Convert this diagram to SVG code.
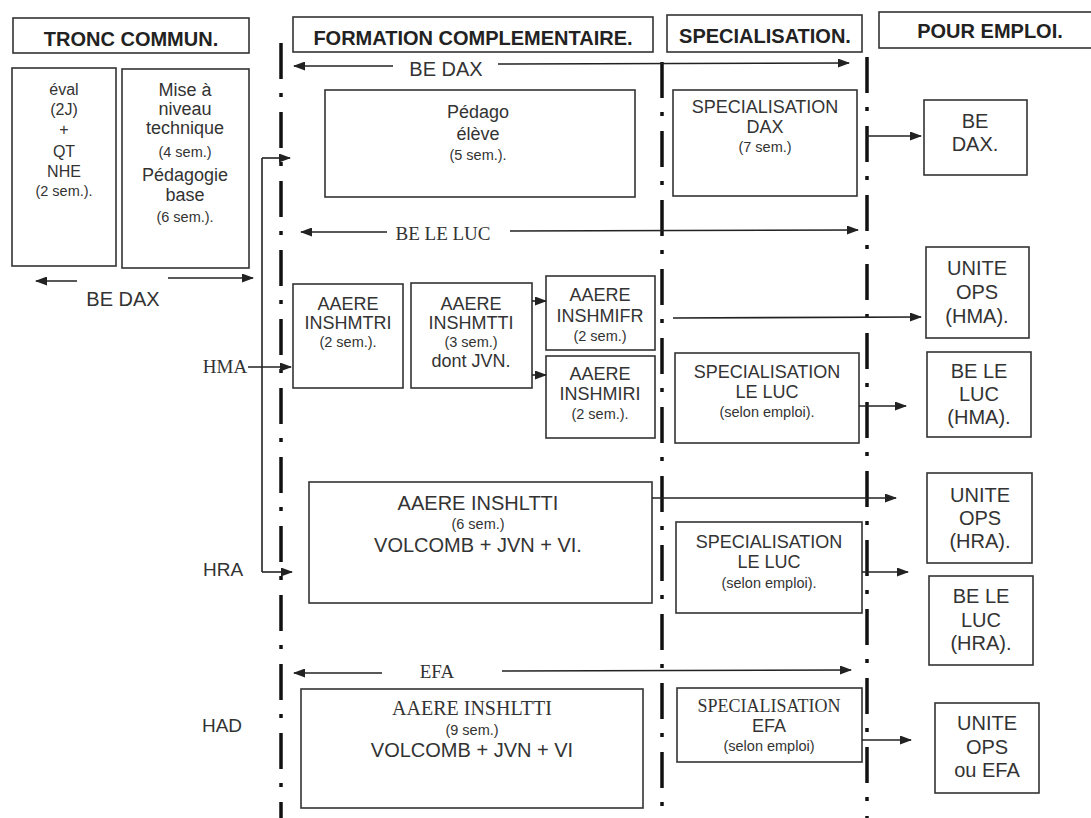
<svg xmlns="http://www.w3.org/2000/svg" width="1091" height="818" viewBox="0 0 1091 818">
<defs>
<marker id="ah" markerUnits="userSpaceOnUse" markerWidth="12" markerHeight="9" refX="11" refY="4.5" orient="auto">
<path d="M0,0 L12,4.5 L0,9 z" fill="#222"/>
</marker>
</defs>
<style>
.bx{fill:#fff;stroke:#333;stroke-width:1.6}
.h{font-family:"Liberation Sans",Arial,sans-serif;font-weight:bold;font-size:20px;fill:#222;text-anchor:middle}
.t{font-family:"Liberation Sans",Arial,sans-serif;font-size:18px;fill:#333;text-anchor:middle}
.e{font-family:"Liberation Sans",Arial,sans-serif;font-size:16px;fill:#333;text-anchor:middle}
.b{font-family:"Liberation Sans",Arial,sans-serif;font-size:20px;fill:#333;text-anchor:middle}
.s{font-family:"Liberation Sans",Arial,sans-serif;font-size:14.5px;fill:#333;text-anchor:middle}
.r{font-family:"Liberation Serif","Times New Roman",serif;font-size:19px;fill:#333;text-anchor:middle}
.c{fill:none;stroke:#222;stroke-width:1.6}
.a{fill:none;stroke:#222;stroke-width:1.6;marker-end:url(#ah)}
.dd{fill:none;stroke:#111;stroke-width:3.5;stroke-dasharray:36 14 4 15}
</style>
<rect width="1091" height="818" fill="#fff"/>

<g id="separators">
<line class="dd" x1="281" y1="43" x2="281" y2="818"/>
<line class="dd" x1="662" y1="62" x2="662" y2="818"/>
<line class="dd" x1="867" y1="57" x2="867" y2="818"/>
</g>

<g id="h-tronc"><rect class="bx" x="13" y="18" width="236" height="35"/><text class="h" x="131" y="46">TRONC COMMUN.</text></g>
<g id="h-formation"><rect class="bx" x="293" y="17" width="360" height="35"/><text class="h" x="473" y="45">FORMATION COMPLEMENTAIRE.</text></g>
<g id="h-spec"><rect class="bx" x="667" y="15" width="195" height="37"/><text class="h" x="765" y="43">SPECIALISATION.</text></g>
<g id="h-emploi"><rect class="bx" x="879" y="12" width="220" height="36"/><text class="h" x="990" y="38">POUR EMPLOI.</text></g>

<g id="n-eval"><rect class="bx" x="12" y="68" width="104" height="198"/>
<text class="e" x="64" y="95">éval</text><text class="e" x="64" y="115">(2J)</text><text class="e" x="64" y="135">+</text>
<text class="e" x="64" y="157">QT</text><text class="e" x="64" y="177">NHE</text><text class="s" x="64" y="196">(2 sem.).</text></g>

<g id="n-mise"><rect class="bx" x="122" y="69" width="127" height="199"/>
<text class="t" x="185" y="96">Mise à</text><text class="t" x="185" y="115">niveau</text><text class="t" x="185" y="134">technique</text>
<text class="s" x="185" y="157">(4 sem.)</text><text class="t" x="185" y="181">Pédagogie</text><text class="t" x="185" y="201">base</text>
<text class="s" x="185" y="222">(6 sem.).</text></g>

<g id="n-pedago"><rect class="bx" x="325" y="90" width="310" height="107"/>
<text class="t" x="478" y="118">Pédago</text><text class="t" x="478" y="140">élève</text><text class="s" x="478" y="160">(5 sem.).</text></g>

<g id="n-specdax"><rect class="bx" x="673" y="90" width="184" height="106"/>
<text class="t" x="765" y="113">SPECIALISATION</text><text class="t" x="765" y="133">DAX</text><text class="s" x="765" y="152">(7 sem.)</text></g>

<g id="n-bedax"><rect class="bx" x="924" y="100" width="103" height="75"/>
<text class="b" x="975" y="128">BE</text><text class="b" x="975" y="151">DAX.</text></g>

<g id="n-inshmtri"><rect class="bx" x="293" y="284" width="110" height="104"/>
<text class="t" x="348" y="310">AAERE</text><text class="t" x="348" y="329">INSHMTRI</text><text class="s" x="348" y="347">(2 sem.).</text></g>

<g id="n-inshmtti"><rect class="bx" x="411" y="283" width="121" height="105"/>
<text class="t" x="471" y="310">AAERE</text><text class="t" x="471" y="329">INSHMTTI</text><text class="s" x="471" y="347">(3 sem.)</text><text class="t" x="471" y="367">dont JVN.</text></g>

<g id="n-inshmifr"><rect class="bx" x="546" y="276" width="109" height="74"/>
<text class="t" x="600" y="301">AAERE</text><text class="t" x="600" y="322">INSHMIFR</text><text class="s" x="600" y="341">(2 sem.)</text></g>

<g id="n-inshmiri"><rect class="bx" x="546" y="356" width="109" height="82"/>
<text class="t" x="600" y="380">AAERE</text><text class="t" x="600" y="400">INSHMIRI</text><text class="s" x="600" y="419">(2 sem.).</text></g>

<g id="n-uniteops-hma"><rect class="bx" x="926" y="247" width="103" height="91"/>
<text class="b" x="977" y="275">UNITE</text><text class="b" x="977" y="299">OPS</text><text class="b" x="977" y="323">(HMA).</text></g>

<g id="n-specluc-hma"><rect class="bx" x="675" y="353" width="184" height="90"/>
<text class="t" x="767" y="378">SPECIALISATION</text><text class="t" x="767" y="398">LE LUC</text><text class="s" x="767" y="417">(selon emploi).</text></g>

<g id="n-beluc-hma"><rect class="bx" x="927" y="352" width="104" height="85"/>
<text class="b" x="979" y="378">BE LE</text><text class="b" x="979" y="401">LUC</text><text class="b" x="979" y="424">(HMA).</text></g>

<g id="n-inshltti-hra"><rect class="bx" x="309" y="482" width="343" height="121"/>
<text class="b" x="478" y="510">AAERE INSHLTTI</text><text class="s" x="478" y="529">(6 sem.)</text><text class="b" x="478" y="552">VOLCOMB + JVN + VI.</text></g>

<g id="n-uniteops-hra"><rect class="bx" x="927" y="473" width="105" height="90"/>
<text class="b" x="980" y="502">UNITE</text><text class="b" x="980" y="525">OPS</text><text class="b" x="980" y="548">(HRA).</text></g>

<g id="n-specluc-hra"><rect class="bx" x="676" y="522" width="186" height="91"/>
<text class="t" x="769" y="548">SPECIALISATION</text><text class="t" x="769" y="568">LE LUC</text><text class="s" x="769" y="588">(selon emploi).</text></g>

<g id="n-beluc-hra"><rect class="bx" x="929" y="576" width="104" height="89"/>
<text class="b" x="981" y="603">BE LE</text><text class="b" x="981" y="627">LUC</text><text class="b" x="981" y="650">(HRA).</text></g>

<g id="n-inshltti-had"><rect class="bx" x="301" y="689" width="342" height="119"/>
<text class="r" x="472" y="715" style="font-size:20px">AAERE INSHLTTI</text><text class="s" x="472" y="735">(9 sem.)</text><text class="b" x="472" y="757">VOLCOMB + JVN + VI</text></g>

<g id="n-specefa"><rect class="bx" x="677" y="688" width="185" height="74"/>
<text class="r" x="769" y="712" style="font-size:18px">SPECIALISATION</text><text class="t" x="769" y="732">EFA</text><text class="s" x="769" y="751">(selon emploi)</text></g>

<g id="n-uniteops-efa"><rect class="bx" x="935" y="703" width="104" height="90"/>
<text class="b" x="987" y="730">UNITE</text><text class="b" x="987" y="754">OPS</text><text class="b" x="987" y="777">ou EFA</text></g>

<g id="labels">
<text class="b" x="123" y="306">BE DAX</text>
<text class="b" x="446" y="76">BE DAX</text>
<text class="r" x="443" y="240">BE LE LUC</text>
<text class="r" x="225" y="373">HMA</text>
<text class="b" x="223" y="576" style="font-size:19px">HRA</text>
<text class="b" x="222" y="732" style="font-size:19px">HAD</text>
<text class="r" x="437" y="678">EFA</text>
</g>

<g id="connectors">
<line class="a" x1="77" y1="281" x2="36" y2="281"/>
<line class="a" x1="168" y1="278" x2="253" y2="278"/>
<polyline class="c" points="262,158 262,572"/>
<line class="a" x1="262" y1="158" x2="290" y2="158"/>
<line class="a" x1="248" y1="367" x2="291" y2="367"/>
<line class="a" x1="262" y1="572" x2="292" y2="572"/>
<line class="a" x1="393" y1="66" x2="294" y2="66"/>
<line class="a" x1="498" y1="64" x2="849" y2="63"/>
<line class="a" x1="387" y1="232" x2="301" y2="232"/>
<line class="a" x1="510" y1="231" x2="858" y2="230"/>
<line class="a" x1="867" y1="136" x2="921" y2="136"/>
<line class="a" x1="532" y1="301" x2="546" y2="301"/>
<line class="a" x1="532" y1="375" x2="546" y2="375"/>
<line class="a" x1="673" y1="318" x2="921" y2="317"/>
<line class="a" x1="859" y1="406" x2="906" y2="406"/>
<line class="a" x1="652" y1="498" x2="896" y2="498"/>
<line class="a" x1="862" y1="572" x2="908" y2="572"/>
<line class="a" x1="382" y1="673" x2="294" y2="673"/>
<line class="a" x1="502" y1="671" x2="851" y2="670"/>
<line class="a" x1="862" y1="740" x2="911" y2="740"/>
</g>
</svg>
